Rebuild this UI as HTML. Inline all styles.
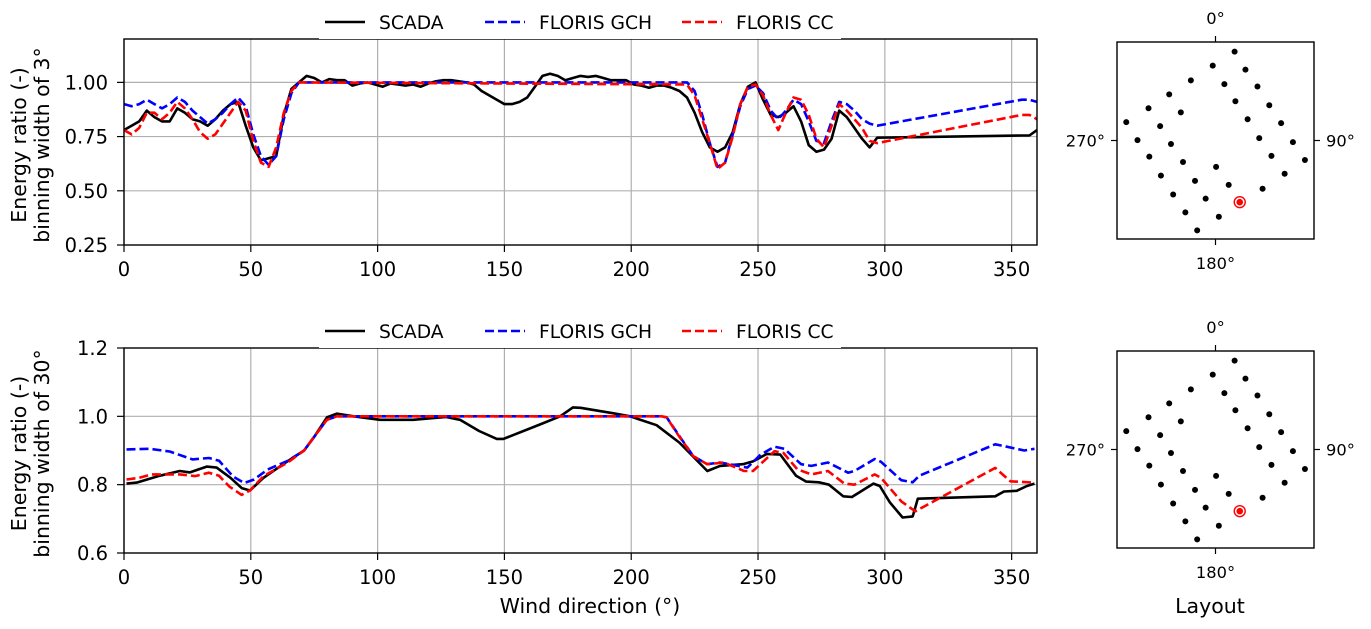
<!DOCTYPE html>
<html><head><meta charset="utf-8"><style>
body{margin:0;background:#fff;}
svg{display:block;font-family:"DejaVu Sans","Liberation Sans",sans-serif;}
</style></head><body>
<svg id="fig" width="1371" height="629" viewBox="0 0 1371 629" xmlns="http://www.w3.org/2000/svg"></svg>
<script>
// ---- Data ----
const xTicks = [0,50,100,150,200,250,300,350];
const yTicksTop = [0.25,0.5,0.75,1.0];
const yTicksBot = [0.6,0.8,1.0,1.2];
const seriesNames = ["SCADA","FLORIS GCH","FLORIS CC"];

const topScadaDir = [0,3,6,9,12,15,18,21,24,27,30,33,36,39,42,45,48,51,54,57,60,63,66,69,72,75,78,81,84,87,90,93,96,99,102,105,108,111,114,117,120,123,126,129,132,135,138,141,144,147,150,153,156,159,162,165,168,171,174,177,180,183,186,189,192,195,198,201,204,207,210,213,216,219,222,225,228,231,234,237,240,243,246,249,252,255,258,261,264,267,270,273,276,279,282,285,288,291,294,297,354,357,360];
const topScadaVal = [0.78,0.80,0.82,0.87,0.84,0.82,0.82,0.88,0.86,0.83,0.82,0.80,0.83,0.87,0.90,0.91,0.80,0.70,0.64,0.65,0.66,0.85,0.97,1.00,1.03,1.02,1.00,1.015,1.01,1.01,0.985,0.995,1.0,0.99,0.98,0.995,0.99,0.985,0.99,0.98,0.995,1.005,1.01,1.01,1.005,1.0,0.99,0.96,0.94,0.92,0.90,0.90,0.91,0.93,0.98,1.03,1.04,1.03,1.01,1.02,1.03,1.025,1.03,1.02,1.01,1.01,1.01,0.99,0.985,0.975,0.985,0.985,0.975,0.96,0.93,0.86,0.77,0.70,0.68,0.70,0.77,0.90,0.98,1.00,0.92,0.85,0.84,0.86,0.89,0.82,0.71,0.68,0.69,0.74,0.87,0.84,0.79,0.74,0.70,0.745,0.755,0.755,0.78];

const topModelDir = [0,3,6,9,12,15,18,21,24,27,30,33,36,39,42,45,48,51,54,57,60,63,66,69,222,225,228,231,234,237,240,243,246,249,252,255,258,261,264,267,270,273,276,279,282,285,288,291,294,297,354,357,360];
const topGchVal = [0.90,0.89,0.90,0.92,0.90,0.88,0.90,0.93,0.91,0.87,0.84,0.81,0.83,0.86,0.90,0.93,0.89,0.76,0.66,0.62,0.66,0.83,0.95,1.0,1.0,0.96,0.85,0.72,0.61,0.63,0.76,0.89,0.97,0.985,0.95,0.87,0.83,0.87,0.92,0.90,0.82,0.73,0.72,0.82,0.91,0.90,0.87,0.83,0.81,0.80,0.92,0.92,0.91];
const topCcVal = [0.78,0.76,0.79,0.86,0.86,0.83,0.86,0.91,0.88,0.83,0.77,0.74,0.76,0.81,0.86,0.91,0.87,0.73,0.63,0.61,0.70,0.86,0.96,1.0,0.99,0.94,0.83,0.72,0.60,0.63,0.75,0.90,0.98,0.99,0.94,0.85,0.78,0.86,0.93,0.92,0.85,0.74,0.70,0.80,0.90,0.87,0.83,0.79,0.73,0.72,0.85,0.85,0.83];

const botScadaDir = [1,5,14,22,26,32.6,36.5,42,46.4,49.7,55,64,71,75,80,84,90.5,101,114,127,132.5,140,147,149.6,164,172,177,180,193,199.5,210,219,230,235,244,248,253.5,258.8,265,269,274,278,283.6,287,295.5,298,302,307,311,313,343.5,347,352,356,359];
const botScadaVal = [0.803,0.806,0.826,0.84,0.836,0.853,0.85,0.82,0.79,0.783,0.82,0.866,0.90,0.94,0.997,1.008,1.0,0.99,0.99,0.998,0.99,0.957,0.934,0.934,0.976,1.0,1.026,1.025,1.009,1.0,0.974,0.923,0.84,0.855,0.86,0.868,0.89,0.888,0.826,0.809,0.807,0.80,0.766,0.764,0.803,0.796,0.748,0.704,0.707,0.759,0.766,0.78,0.782,0.796,0.803];

const botGchDir = [1,10,18,27,33.5,37.5,43,47.4,51.3,56.6,64.6,71,75,80,84,212,214,219,224.5,230,235,245.8,251,256.5,260.4,267,271,277.6,285.5,288,296,298.5,306.5,311,313.5,343.5,347,355,359];
const botGchVal = [0.903,0.905,0.897,0.874,0.878,0.87,0.824,0.805,0.815,0.844,0.87,0.90,0.94,0.99,1.0,1.0,0.997,0.942,0.883,0.86,0.865,0.85,0.888,0.911,0.905,0.86,0.855,0.865,0.835,0.84,0.875,0.867,0.813,0.807,0.826,0.918,0.913,0.90,0.905];

const botCcDir = [1,6,11,22,28,33.5,37.5,41.5,46.4,49.7,55,64.6,71,75,80,84,212,214,219,224.5,230,236.5,244.5,248,256.5,260,265.5,271,277.6,284,288,296,298.5,306.5,312,343.5,349.5,359];
const botCcVal = [0.815,0.82,0.83,0.83,0.825,0.835,0.826,0.795,0.77,0.783,0.825,0.865,0.90,0.94,0.99,1.0,1.0,0.997,0.94,0.883,0.86,0.865,0.84,0.84,0.898,0.893,0.845,0.83,0.84,0.803,0.80,0.83,0.82,0.751,0.722,0.849,0.81,0.806];

// layout turbine positions (normalized 0..1 within panel box)
const turbX = [0.597,0.486,0.652,0.375,0.545,0.713,0.265,0.601,0.773,0.160,0.324,0.663,0.833,0.047,0.219,0.722,0.893,0.104,0.274,0.954,0.164,0.335,0.503,0.784,0.851,0.223,0.396,0.567,0.739,0.285,0.450,0.623,0.347,0.517,0.407];
const turbY = [0.049,0.120,0.140,0.195,0.214,0.226,0.266,0.301,0.321,0.336,0.357,0.392,0.412,0.407,0.427,0.488,0.508,0.498,0.518,0.599,0.582,0.609,0.634,0.578,0.669,0.678,0.705,0.725,0.745,0.774,0.795,0.813,0.865,0.887,0.956];
const highlightTurbine = 31;

// ---- Drawing ----
const NS="http://www.w3.org/2000/svg";
const svg=document.getElementById('fig');
function mk(tag,attrs,parent){const e=document.createElementNS(NS,tag);for(const k in attrs)e.setAttribute(k,attrs[k]);(parent||svg).appendChild(e);return e;}

const X0=124,X1=1037;
const TICK_FS=19.5, TITLE_FS=20.5, LEG_FS=18.7, COMPASS_FS=16.3;
function xs(d){return X0+(d/360)*(X1-X0);}

function drawAxes(top,bottom,ymin,ymax,yTicks,yFmt,label2,prefix){
  const ys=v=>bottom-(v-ymin)/(ymax-ymin)*(bottom-top);
  const g=mk('g',{});
  
  
  xTicks.forEach(t=>{
    const l=mk('line',{x1:xs(t),x2:xs(t),y1:top,y2:bottom,stroke:'#b0b0b0','stroke-width':1.2},g);
    
    
    mk('line',{x1:xs(t),x2:xs(t),y1:bottom,y2:bottom+7,stroke:'#000','stroke-width':1.2},g);
    const tx=mk('text',{x:xs(t),y:bottom+31,'font-size':TICK_FS,'text-anchor':'middle',fill:'#000'},g);
    tx.textContent=t;
    
    
  });
  yTicks.forEach(t=>{
    const y=ys(t);
    if(y>top+1&&y<bottom-1){
      const l=mk('line',{x1:X0,x2:X1,y1:y,y2:y,stroke:'#b0b0b0','stroke-width':1.2},g);
      
      
    }
    mk('line',{x1:X0-7,x2:X0,y1:y,y2:y,stroke:'#000','stroke-width':1.2},g);
    const tx=mk('text',{x:X0-16,y:y+7,'font-size':TICK_FS,'text-anchor':'end',fill:'#000'},g);
    tx.textContent=yFmt(t);
    
    
  });
  const yl=mk('text',{transform:`translate(26,${(top+bottom)/2+3}) rotate(-90)`,'font-size':TITLE_FS,'text-anchor':'middle',fill:'#000'},g);
  
  
  const t1=mk('tspan',{x:0,dy:0},yl);t1.textContent='Energy ratio (-)';
  const t2=mk('tspan',{x:0,dy:23},yl);t2.textContent=label2;
  return ys;
}
function line(dirs,vals,ys,color,dash,name){
  const pts=dirs.map((d,i)=>xs(d).toFixed(1)+','+ys(vals[i]).toFixed(1)).join(' ');
  const p=mk('polyline',{points:pts,fill:'none',stroke:color,'stroke-width':2.6,'stroke-linejoin':'round'});
  if(dash)p.setAttribute('stroke-dasharray',dash);
  
  
}
function frame(top,bottom,prefix){
  const r=mk('rect',{x:X0,y:top,width:X1-X0,height:bottom-top,fill:'none',stroke:'#000','stroke-width':1.4});
  
  
}
function legend(cy,prefix){
  const g=mk('g',{});
  
  
  mk('rect',{x:319,y:cy-19,width:522,height:36,fill:'#fff'},g);
  const items=[[325,'#000',null],[485,'#0000ff','9,4'],[682,'#ff0000','9,4']];
  items.forEach((it,i)=>{
    const l=mk('line',{x1:it[0],x2:it[0]+40,y1:cy,y2:cy,stroke:it[1],'stroke-width':2.6},g);
    if(it[2])l.setAttribute('stroke-dasharray',it[2]);
    
    
    const t=mk('text',{x:it[0]+54,y:cy+7,'font-size':LEG_FS,fill:'#000'},g);
    t.textContent=seriesNames[i];
    
    
  });
}
function layoutPanel(top,prefix){
  const L=1117,R=1314,B=top+197;
  const g=mk('g',{});
  
  
  mk('rect',{x:L,y:top,width:R-L,height:B-top,fill:'#fff',stroke:'#000','stroke-width':1.4},g);
  const cx=(L+R)/2,cy=(top+B)/2;
  [[cx,top,cx,top-6],[cx,B,cx,B+6],[L,cy,L-6,cy],[R,cy,R+6,cy]].forEach(a=>mk('line',{x1:a[0],y1:a[1],x2:a[2],y2:a[3],stroke:'#000','stroke-width':1.2},g));
  const labs=[[cx,top-18,'0°','middle'],[cx,B+30,'180°','middle'],[L-12,cy+6,'270°','end'],[R+12,cy+6,'90°','start']];
  labs.forEach(a=>{const t=mk('text',{x:a[0],y:a[1],'font-size':COMPASS_FS,'text-anchor':a[3],fill:'#000'},g);t.textContent=a[2];
    
    });
  turbX.forEach((tx,i)=>{
    const px=L+tx*(R-L),py=top+turbY[i]*(B-top);
    if(i===highlightTurbine){
      mk('circle',{cx:px,cy:py,r:5.5,fill:'none',stroke:'#ff0000','stroke-width':1.4},g);
      const c=mk('circle',{cx:px,cy:py,r:3.3,fill:'#ff0000'},g);
      
      
    } else {
      const c=mk('circle',{cx:px,cy:py,r:3,fill:'#000'},g);
      
      
    }
  });
}

// top chart
const ysT=drawAxes(39,245,0.25,1.2,yTicksTop,v=>v.toFixed(2),'binning width of 3°','top');
line(topScadaDir,topScadaVal,ysT,'#000',null,'top-scada-line');
line(topModelDir,topGchVal,ysT,'#0000ff','9,4','top-floris-gch-line');
line(topModelDir,topCcVal,ysT,'#ff0000','9,4','top-floris-cc-line');
frame(39,245,'top');
legend(22,'top');
layoutPanel(42,'top');

// bottom chart
const ysB=drawAxes(348,553,0.6,1.2,yTicksBot,v=>v.toFixed(1),'binning width of 30°','bottom');
line(botScadaDir,botScadaVal,ysB,'#000',null,'bottom-scada-line');
line(botGchDir,botGchVal,ysB,'#0000ff','9,4','bottom-floris-gch-line');
line(botCcDir,botCcVal,ysB,'#ff0000','9,4','bottom-floris-cc-line');
frame(348,553,'bottom');
legend(331,'bottom');
layoutPanel(351,'bottom');

const xl=mk('text',{x:590,y:613,'font-size':TITLE_FS,'text-anchor':'middle',fill:'#000'});
xl.textContent='Wind direction (°)';


const ll=mk('text',{x:1210,y:613,'font-size':TITLE_FS,'text-anchor':'middle',fill:'#000'});
ll.textContent='Layout';


</script>
</body></html>
